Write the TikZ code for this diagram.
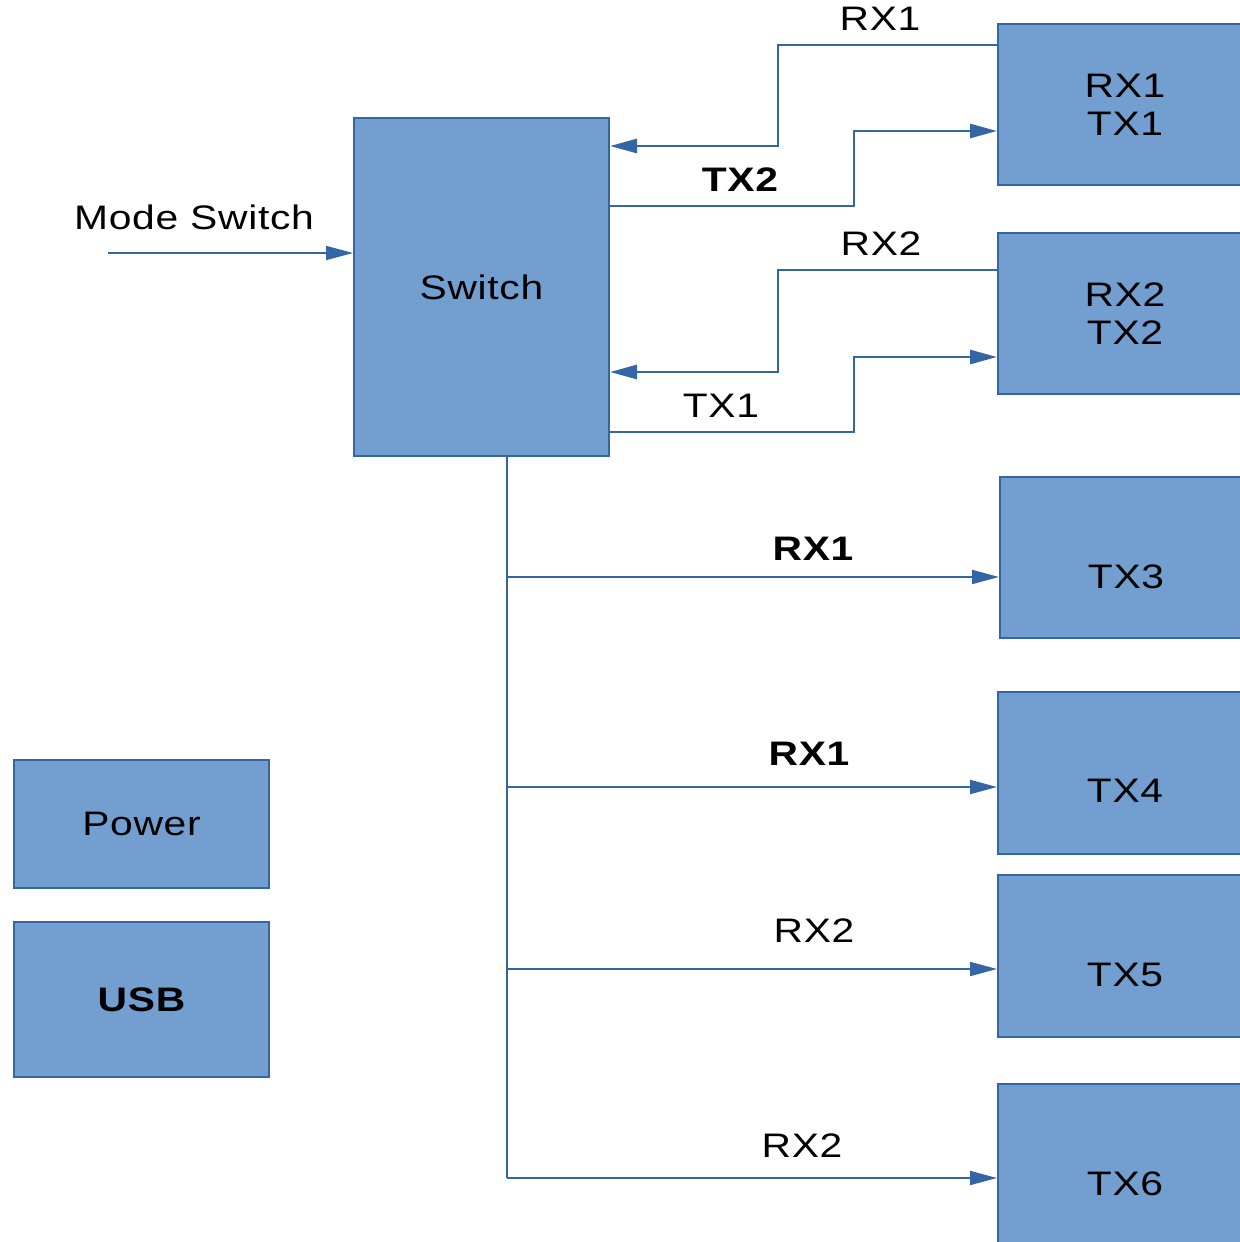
\documentclass[tikz,border=0pt]{standalone}
\usepackage{fontspec}
\setmainfont[FakeStretch=1.2,LetterSpace=2]{Liberation Sans}
\usetikzlibrary{arrows.meta}
\definecolor{boxfill}{HTML}{729FCF}
\definecolor{boxline}{HTML}{3465A4}
\definecolor{wire}{HTML}{3465A4}
\begin{document}
\begin{tikzpicture}[x=0.5pt,y=-0.5pt,
  font=\fontsize{17}{20}\selectfont,
  blk/.style={draw=boxline,fill=boxfill,line width=1pt,inner sep=0pt},
  conn/.style={draw=wire,line width=1.4pt},
  thin/.style={draw=wire,line width=0.9pt},
  tip/.style={-{Triangle[length=13.5pt,width=7pt]}},
  lbl/.style={inner sep=0pt,text=black}]
\useasboundingbox (0,0) rectangle (1240,1242);
% blocks
\node[blk,minimum width=127.5pt,minimum height=169pt] (sw) at (481.5,287) {Switch};
\node[blk,minimum width=127pt,minimum height=80.5pt,align=center] (b1) at (1125,104.5) {RX1\\[-1pt]TX1};
\node[blk,minimum width=127pt,minimum height=80.5pt,align=center] (b2) at (1125,313.5) {RX2\\[-1pt]TX2};
\node[blk,minimum width=126pt,minimum height=80.5pt,label={[lbl,yshift=-9.5pt]center:TX3}] (b3) at (1126,557.5) {};
\node[blk,minimum width=127pt,minimum height=81pt,label={[lbl,yshift=-9pt]center:TX4}] (b4) at (1125,773) {};
\node[blk,minimum width=127pt,minimum height=81pt,label={[lbl,yshift=-9.5pt]center:TX5}] (b5) at (1125,956) {};
\node[blk,minimum width=127pt,minimum height=81pt,label={[lbl,yshift=-9.5pt]center:TX6}] (b6) at (1125,1164.5) {};
\node[blk,minimum width=127.5pt,minimum height=64pt] (pw) at (141.5,824) {Power};
\node[blk,minimum width=127.5pt,minimum height=77.5pt] (usb) at (141.5,999.5) {\bfseries USB};
% helper coordinates
\coordinate (ya) at (0,45);
\coordinate (yb) at (0,146);
\coordinate (yc) at (0,206);
\coordinate (yd) at (0,131);
\coordinate (ye) at (0,270);
\coordinate (yf) at (0,372);
\coordinate (yg) at (0,432);
\coordinate (yh) at (0,357);
\coordinate (ms) at (108,253);
\coordinate (vx) at (507,0);
\coordinate (y3) at (0,577);
\coordinate (y4) at (0,787);
\coordinate (y5) at (0,969);
\coordinate (y6) at (0,1178);
% top connectors
\draw[conn,tip] (b1.west |- ya) -- (778,45) -- (778,146) -- (sw.east |- yb);
\draw[conn,tip] (sw.east |- yc) -- (854,206) -- (854,131) -- (b1.west |- yd);
\draw[conn,tip] (b2.west |- ye) -- (778,270) -- (778,372) -- (sw.east |- yf);
\draw[conn,tip] (sw.east |- yg) -- (854,432) -- (854,357) -- (b2.west |- yh);
\draw[thin,tip] (ms) -- (sw.west |- ms);
% trunk and branches
\draw[thin] (sw.south -| vx) -- (vx |- y6);
\draw[thin,tip] (vx |- y3) -- (b3.west |- y3);
\draw[thin,tip] (vx |- y4) -- (b4.west |- y4);
\draw[thin,tip] (vx |- y5) -- (b5.west |- y5);
\draw[thin,tip] (vx |- y6) -- (b6.west |- y6);
% labels
\node[lbl] (lrx1a) at (880,19) {RX1};
\node[lbl] (ltx2) at (740,180) {\bfseries TX2};
\node[lbl] (lrx2a) at (881,244) {RX2};
\node[lbl] (ltx1) at (721,406) {TX1};
\node[lbl] (lrx1b) at (813,549) {\bfseries RX1};
\node[lbl] (lrx1c) at (809,754) {\bfseries RX1};
\node[lbl] (lrx2b) at (814,931) {RX2};
\node[lbl] (lrx2c) at (802,1146) {RX2};
\node[lbl] (lms) at (194,217) {Mode Switch};
\end{tikzpicture}
\end{document}
